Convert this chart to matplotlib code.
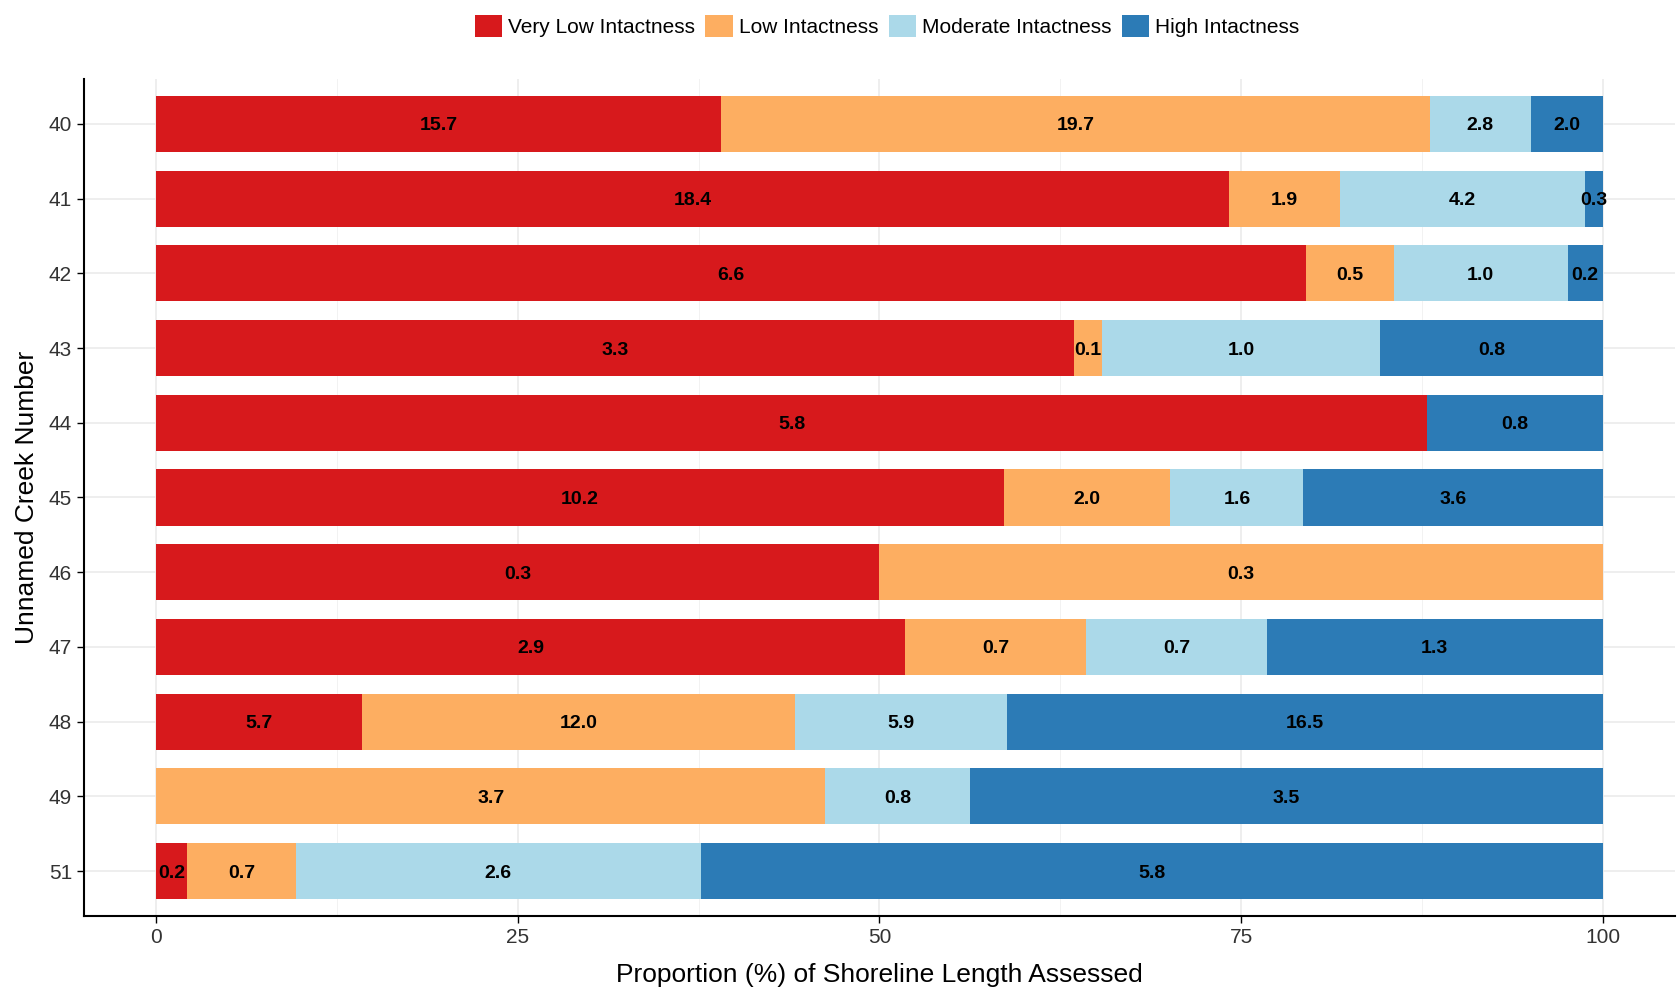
import matplotlib
matplotlib.use("Agg")
import matplotlib.pyplot as plt
from matplotlib.patches import Patch
import numpy as np

plt.rcParams['font.family'] = ['Liberation Sans', 'DejaVu Sans']

creeks = ["40", "41", "42", "43", "44", "45", "46", "47", "48", "49", "51"]
categories = ["Very Low Intactness", "Low Intactness", "Moderate Intactness", "High Intactness"]
very_low = [15.7, 18.4, 6.6, 3.3, 5.8, 10.2, 0.3, 2.9, 5.7, 0.0, 0.2]
low = [19.7, 1.9, 0.5, 0.1, 0.0, 2.0, 0.3, 0.7, 12.0, 3.7, 0.7]
moderate = [2.8, 4.2, 1.0, 1.0, 0.0, 1.6, 0.0, 0.7, 5.9, 0.8, 2.6]
high = [2.0, 0.3, 0.2, 0.8, 0.8, 3.6, 0.0, 1.3, 16.5, 3.5, 5.8]
colors = ["#D7191C", "#FDAE61", "#ABD9E9", "#2C7BB6"]

series = [np.array(very_low), np.array(low), np.array(moderate), np.array(high)]
totals = sum(series)
props = [s / totals * 100 for s in series]

fig = plt.figure(figsize=(16.77, 9.92), dpi=100)
ax = fig.add_axes([0.050, 0.0766, 0.9488, 0.8438])

y = np.arange(len(creeks))
left = np.zeros(len(creeks))
for vals, p, c in zip(series, props, colors):
    ax.barh(y, p, left=left, height=0.75, color=c, zorder=2, linewidth=0)
    for i in range(len(creeks)):
        if vals[i] > 0:
            ax.text(left[i] + p[i] / 2, y[i], f"{vals[i]:.1f}", ha="center", va="center_baseline",
                    fontsize=14, fontweight="bold", color="black", zorder=3)
    left = left + p

ax.set_xlim(-5, 105)
ax.set_ylim(len(creeks) - 1 + 0.6, -0.6)
ax.set_yticks(y)
ax.set_yticklabels(creeks)
ax.set_xticks([0, 25, 50, 75, 100])
ax.set_xticks([12.5, 37.5, 62.5, 87.5], minor=True)
ax.tick_params(axis="both", which="major", labelsize=15, length=5, width=1, color="black", labelcolor="#333333")
ax.tick_params(axis="x", which="minor", length=0)
ax.grid(True, which="major", color="#EBEBEB", linewidth=1.2, zorder=0)
ax.grid(True, which="minor", axis="x", color="#F2F2F2", linewidth=0.7, zorder=0)
ax.set_axisbelow(True)
for s in ["top", "right"]:
    ax.spines[s].set_visible(False)
for s in ["left", "bottom"]:
    ax.spines[s].set_linewidth(1.5)
    ax.spines[s].set_color("black")

ax.set_xlabel("Proportion (%) of Shoreline Length Assessed", fontsize=19, labelpad=12)
ax.set_ylabel("Unnamed Creek Number", fontsize=19, labelpad=7)

handles = [Patch(facecolor=c, edgecolor="none", label=l) for c, l in zip(colors, categories)]
fig.legend(handles=handles, loc="upper center", bbox_to_anchor=(0.529, 1.004), ncol=4, frameon=False,
           fontsize=15, handlelength=1.3, handleheight=1.3, handletextpad=0.3, columnspacing=0.5)

fig.savefig("out.png", dpi=100, facecolor="white")
